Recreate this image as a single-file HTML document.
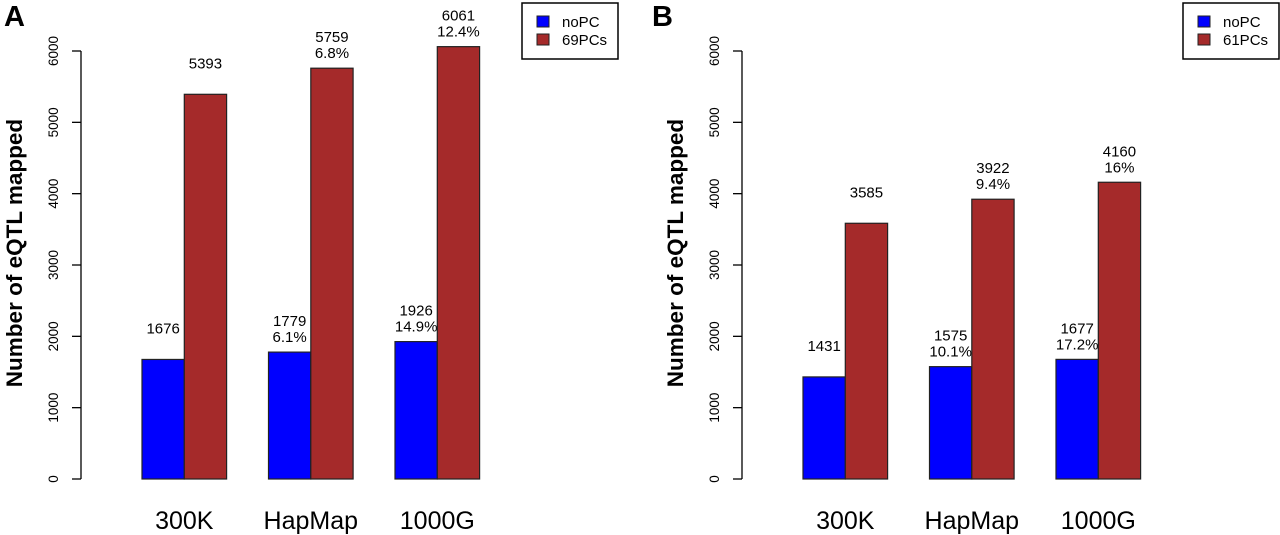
<!DOCTYPE html>
<html><head><meta charset="utf-8"><style>
html,body{margin:0;padding:0;background:#fff;}
svg{display:block;font-family:"Liberation Sans",Arial,sans-serif;}
</style></head><body>
<svg id="chart" width="1280" height="535" viewBox="0 0 1280 535" xmlns="http://www.w3.org/2000/svg"></svg>
<script>
const categories = ["300K", "HapMap", "1000G"];
const yTicks = [0, 1000, 2000, 3000, 4000, 5000, 6000];
const seriesNames = ["noPC", "PCs"];
const aNoPC = [1676, 1779, 1926];
const aPCs = [5393, 5759, 6061];
const aNoPCPct = ["", "6.1%", "14.9%"];
const aPCsPct = ["", "6.8%", "12.4%"];
const aLegend = ["noPC", "69PCs"];
const bNoPC = [1431, 1575, 1677];
const bPCs = [3585, 3922, 4160];
const bNoPCPct = ["", "10.1%", "17.2%"];
const bPCsPct = ["", "9.4%", "16%"];
const bLegend = ["noPC", "61PCs"];

const NS = "http://www.w3.org/2000/svg";
const svg = document.getElementById("chart");
function mk(tag, attrs, parent, text) {
  const e = document.createElementNS(NS, tag);
  for (const k in attrs) e.setAttribute(k, attrs[k]);
  if (text !== undefined) e.textContent = text;
  (parent || svg).appendChild(e);
  return e;
}
const y0 = 479, yTop = 51, yMax = 6000;
function yScale(v) { return y0 - (v / yMax) * (y0 - yTop); }

function panel(ox, letter, noPC, pcs, noPct, pcPct, legend, axisX, legendX) {
  const g = mk("g", {});
  
  
  const lt = mk("text", {x: ox + 4, y: 26, "font-size": 29, "font-weight": "bold"}, g, letter);
  
  
  const yl = mk("text", {x: 0, y: 0, "font-size": 22.5, "font-weight": "bold", "text-anchor": "middle", transform: "translate(" + (axisX - 59) + ",253) rotate(-90)"}, g, "Number of eQTL mapped");
  
  
  const ax = mk("line", {x1: axisX, x2: axisX, y1: yScale(0), y2: yScale(6000), stroke: "#000", "stroke-width": 1.3}, g);
  
  
  yTicks.forEach(t => {
    const tk = mk("line", {x1: axisX - 9, x2: axisX, y1: yScale(t), y2: yScale(t), stroke: "#000", "stroke-width": 1.3}, g);
    
    
    const tl = mk("text", {x: 0, y: 0, "font-size": 13.5, "text-anchor": "middle", transform: "translate(" + (axisX - 23) + "," + yScale(t) + ") rotate(-90)"}, g, String(t));
    
    
  });
  const start = axisX + 61, step = 126.5, bw = 42.3;
  categories.forEach((c, i) => {
    const bx = start + step * i;
    const vals = [noPC[i], pcs[i]];
    const pcts = [noPct[i], pcPct[i]];
    vals.forEach((v, j) => {
      const x = bx + bw * j;
      const r = mk("rect", {x: x, y: yScale(v), width: bw, height: yScale(0) - yScale(v), fill: j ? "#a52a2a" : "#0000ff", stroke: "#222", "stroke-width": 1.2}, g);
      
      
      const top = yScale(v);
      const l1 = mk("text", {x: x + bw / 2, y: top - 26, "font-size": 15, "text-anchor": "middle"}, g, String(v));
      
      
      if (pcts[j]) {
        const l2 = mk("text", {x: x + bw / 2, y: top - 10, "font-size": 15, "text-anchor": "middle"}, g, pcts[j]);
        
        
      }
    });
    const cl = mk("text", {x: bx + bw, y: 529, "font-size": 25, "text-anchor": "middle"}, g, c);
    
    
  });
  const lg = mk("g", {}, g);
  
  
  const lb = mk("rect", {x: legendX, y: 3, width: 96, height: 56, fill: "#fff", stroke: "#000", "stroke-width": 1.5}, lg);
  
  
  legend.forEach((name, k) => {
    const sw = mk("rect", {x: legendX + 15, y: 16 + 18 * k, width: 12, height: 11, fill: k ? "#a52a2a" : "#0000ff", stroke: "#222", "stroke-width": 1}, lg);
    
    
    const tx = mk("text", {x: legendX + 40, y: 27 + 18 * k, "font-size": 15}, lg, name);
    
    
  });
}
panel(0, "A", aNoPC, aPCs, aNoPCPct, aPCsPct, aLegend, 81, 522);
panel(648, "B", bNoPC, bPCs, bNoPCPct, bPCsPct, bLegend, 742, 1183);
</script>
</body></html>
